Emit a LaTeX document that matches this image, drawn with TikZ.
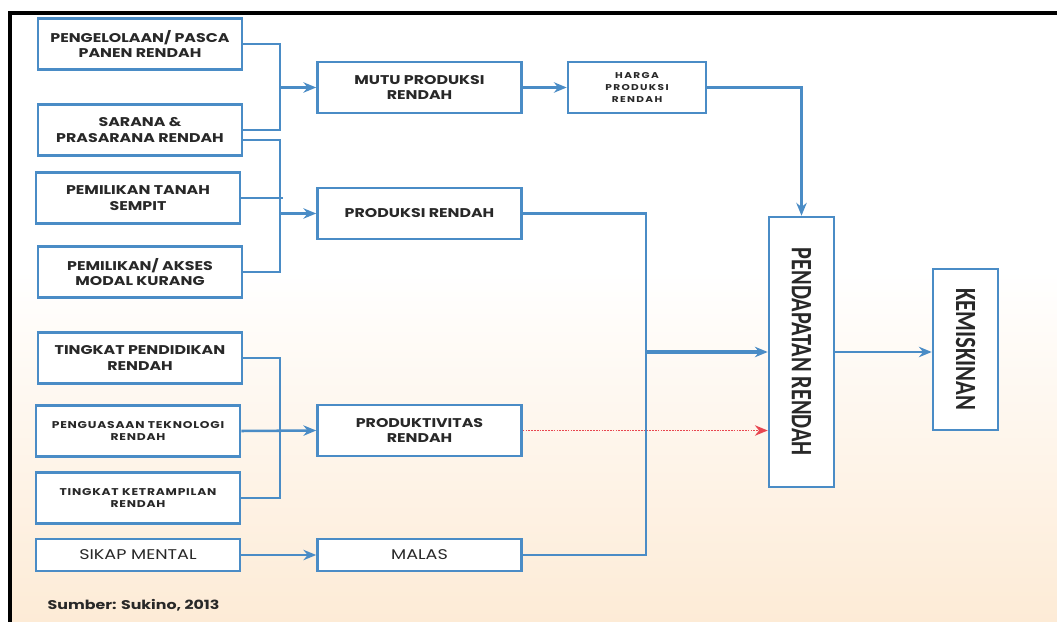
\documentclass[tikz,border=0pt]{standalone}
\usepackage{fontspec}
\setmainfont{Poppins}
\newfontfamily\widefont[FakeStretch=1.25]{Poppins}
\newfontfamily\spacedfont[FakeStretch=1.25, LetterSpace=8]{Poppins}
\newfontfamily\smallfont[FakeStretch=1.25, LetterSpace=16]{Poppins}
\newfontfamily\condfont{Carlito}
\usetikzlibrary{arrows.meta}
\definecolor{boxblue}{RGB}{74,140,198}
\definecolor{peach}{RGB}{253,235,214}
\definecolor{redline}{RGB}{232,70,80}
\definecolor{txt}{RGB}{40,40,40}

\begin{document}
\begin{tikzpicture}[
  x=0.025cm, y=-0.025cm,
  every node/.style={inner sep=1pt},
  box/.style={draw=boxblue, line width=1.8pt, fill=white, text=txt, align=center,
    minimum width=5.1cm, minimum height=1.28cm, inner sep=0pt,
    font=\widefont\fontsize{9}{11}\selectfont\bfseries},
  thin box/.style={box, minimum height=0.8cm, font=\widefont\fontsize{10}{12}\selectfont},
  tiny box/.style={box, font=\spacedfont\fontsize{7}{9}\selectfont\bfseries},
  tall box/.style={box, minimum width=1.625cm, font=\condfont\bfseries},
  line/.style={draw=boxblue, line width=1.8pt},
  arrow/.style={line, -{Stealth[length=0.32cm, width=0.26cm]}},
  fat arrow/.style={line, line width=2.6pt, -{Stealth[length=0.32cm, width=0.26cm]}},
  red arrow/.style={draw=redline, line width=1.3pt, dash pattern=on 1.2pt off 0.8pt,
    -{Stealth[length=0.32cm, width=0.26cm]}}]

  % background and frame
  \useasboundingbox (0,0) rectangle (1057,622);
  \fill[white] (0,0) rectangle (1057,622);
  \shade[top color=white, bottom color=peach] (10,270) rectangle (1057,622);
  \draw[line width=2.2pt] (10,622) -- (10,13) -- (1057,13);

  % causes
  \node[box] (pasca)     at (140, 44) {PENGELOLAAN/ PASCA\\PANEN RENDAH};
  \node[box] (sarana)    at (140,130) {SARANA \&\\PRASARANA RENDAH};
  \node[box] (tanah)     at (138,198) {PEMILIKAN TANAH\\SEMPIT};
  \node[box] (modal)     at (140,272) {PEMILIKAN/ AKSES\\MODAL KURANG};
  \node[box] (didik)     at (140,358) {TINGKAT PENDIDIKAN\\RENDAH};
  \node[tiny box] (tekno) at (138,431) {PENGUASAAN TEKNOLOGI\\RENDAH};
  \node[tiny box] (terampil) at (138,498) {TINGKAT KETRAMPILAN\\RENDAH};
  \node[thin box] (sikap) at (138,555) {SIKAP MENTAL};

  % effects
  \node[box] (mutu)      at (419.5, 87.5) {MUTU PRODUKSI\\RENDAH};
  \node[box] (produksi)  at (419.5,213.5) {PRODUKSI RENDAH};
  \node[box] (produktif) at (419.5,430.5) {PRODUKTIVITAS\\RENDAH};
  \node[thin box] (malas) at (419.5,555) {MALAS};
  \node[box, minimum width=3.45cm, font=\smallfont\fontsize{6}{8.5}\selectfont\bfseries]
    (harga) at (637,87.5) {HARGA\\PRODUKSI\\RENDAH};
  \node[tall box, minimum height=6.75cm] (pendapatan) at (801.5,352)
    {\rotatebox{-90}{\resizebox{5.2cm}{0.48cm}{PENDAPATAN RENDAH}}};
  \node[tall box, minimum height=4.03cm] (miskin) at (965.5,349.5)
    {\rotatebox{-90}{\resizebox{3.05cm}{0.48cm}{KEMISKINAN}}};

  \node[anchor=west, text=txt, font=\widefont\fontsize{9}{11}\selectfont\bfseries]
    (sumber) at (46,605) {Sumber: Sukino, 2013};

  % junctions
  \coordinate (j1) at (280, 87.5);
  \coordinate (j2) at (280,213.5);
  \coordinate (j3) at (280,431);
  \coordinate (j4) at (646,352);

  % arrows
  \draw[line] (pasca.east) -| (j1) |- (sarana.east);
  \draw[arrow] (j1) -- (mutu.west);
  \draw[line] ([yshift=-0.25cm]sarana.east) -| (j2) |- (modal.east);
  \draw[line] (tanah.east) -- ([xshift=0.08cm]j2 |- tanah.east);
  \draw[arrow] (j2) -- (produksi.west);
  \draw[line] (didik.east) -| (j3) |- (terampil.east);
  \draw[arrow] (tekno.east) -- (produktif.west);
  \draw[arrow] (sikap.east) -- (malas.west);
  \draw[arrow] (mutu.east) -- (harga.west);
  \draw[arrow] (harga.east) -| (pendapatan.north);
  \draw[line] (produksi.east) -| (j4) |- (malas.east);
  \draw[fat arrow] (j4) -- (pendapatan.west);
  \draw[red arrow] (produktif.east) -- (pendapatan.west |- produktif.east);
  \draw[arrow] (pendapatan.east) -- (miskin.west |- pendapatan.east);
\end{tikzpicture}
\end{document}
